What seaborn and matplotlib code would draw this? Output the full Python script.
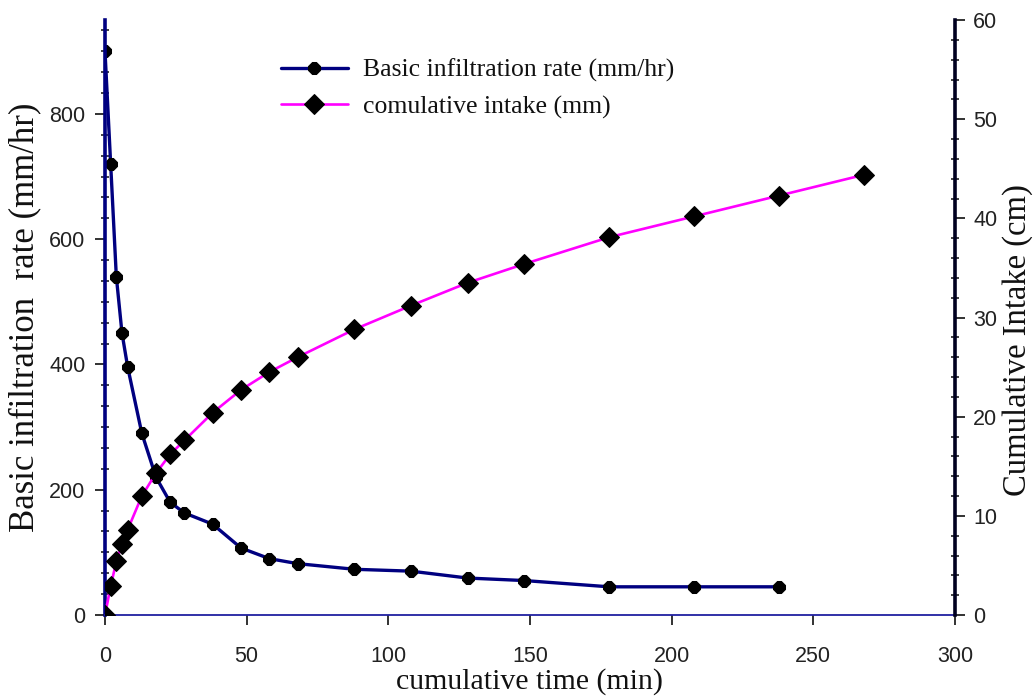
import matplotlib
matplotlib.use("Agg")
import matplotlib.pyplot as plt
import seaborn as sns
import numpy as np
import pandas as pd
from matplotlib.ticker import MultipleLocator

# ---- data ----
rate_time = [0, 2, 4, 6, 8, 13, 18, 23, 28, 38, 48, 58, 68, 88, 108, 128, 148, 178, 208, 238]
rate_values = [900, 720, 540, 450, 396, 290, 220, 180, 163, 145, 107, 90, 82, 73, 70, 59, 55, 45, 45, 45]
cum_time = [0, 2, 4, 6, 8, 13, 18, 23, 28, 38, 48, 58, 68, 88, 108, 128, 148, 178, 208, 238, 268]
cum_values = [0, 2.9, 5.4, 7.2, 8.6, 12.0, 14.3, 16.2, 17.6, 20.4, 22.7, 24.5, 26.0, 28.8, 31.2, 33.5, 35.4, 38.1, 40.2, 42.3, 44.4]
x_ticks = [0, 50, 100, 150, 200, 250, 300]
left_ticks = [0, 200, 400, 600, 800]
right_ticks = [0, 10, 20, 30, 40, 50, 60]
rate_label = "Basic infiltration rate (mm/hr)"
cum_label = "comulative intake (mm)"

sns.set_theme(style="white")
plt.rcParams["font.family"] = ["Liberation Sans", "DejaVu Sans"]

W, H = 1035, 700
fig = plt.figure(figsize=(W / 100, H / 100), dpi=100)
ax = fig.add_axes([105 / W, (H - 615) / H, (955 - 105) / W, (615 - 20) / H])
ax2 = ax.twinx()

navy = "#000080"
magenta = "#FF00FF"

df_rate = pd.DataFrame({"t": rate_time, "v": rate_values})
df_cum = pd.DataFrame({"t": cum_time, "v": cum_values})

sns.lineplot(data=df_rate, x="t", y="v", ax=ax, color=navy, linewidth=2.4,
             marker="8", markersize=9, markerfacecolor="black",
             markeredgecolor="black", label=rate_label, estimator=None, sort=False)
sns.lineplot(data=df_cum, x="t", y="v", ax=ax2, color=magenta, linewidth=1.9,
             marker="D", markersize=10, markerfacecolor="black",
             markeredgecolor="black", label=cum_label, estimator=None, sort=False)

for a in (ax, ax2):
    a.set_xlim(0, 300)
    a.set_facecolor("none")
    a.grid(False)
    lg = a.get_legend()
    if lg is not None:
        lg.remove()

ax.set_ylim(0, 950)
ax2.set_ylim(0, 60)
ax.set_xticks(x_ticks)
ax.set_yticks(left_ticks)
ax.yaxis.set_minor_locator(MultipleLocator(200 / 6))
ax2.set_yticks(right_ticks)
ax2.yaxis.set_minor_locator(MultipleLocator(2))

# spines
ax.spines["top"].set_visible(False)
ax2.spines["top"].set_visible(False)
ax.spines["left"].set_color(navy)
ax.spines["left"].set_linewidth(2.6)
ax.spines["bottom"].set_color("#2020A0")
ax.spines["bottom"].set_linewidth(1.3)
ax.spines["right"].set_visible(False)
ax2.spines["left"].set_visible(False)
ax2.spines["bottom"].set_visible(False)
ax2.spines["right"].set_color("#000020")
ax2.spines["right"].set_linewidth(2.6)

tickfont = 15.5
ax.tick_params(axis="x", which="major", direction="out", length=7, width=1.3,
               colors="#222222", labelsize=tickfont, pad=15, bottom=True)
ax.tick_params(axis="y", which="major", direction="out", length=7, width=1.3,
               colors="#222222", labelsize=tickfont, pad=7, left=True)
ax.tick_params(axis="y", which="minor", direction="inout", length=6, width=1.2,
               colors="#222222", left=True)
ax2.tick_params(axis="y", which="major", direction="out", length=7, width=1.3,
                colors="#222222", labelsize=tickfont, pad=6, right=True)
ax2.tick_params(axis="y", which="minor", direction="inout", length=6, width=1.2,
                colors="#222222", right=True)

serif = ["Liberation Serif", "DejaVu Serif"]
ax.set_xlabel("cumulative time (min)", fontsize=21.5, family=serif, color="#111111", labelpad=1)
ax.set_ylabel("Basic infiltration  rate (mm/hr)", fontsize=25, family=serif, color="#111111", labelpad=6)
ax2.set_ylabel("Cumulative Intake (cm)", fontsize=23.5, family=serif, color="#111111")
ax2.yaxis.set_label_coords(1.056, 0.462)

h1, l1 = ax.get_legend_handles_labels()
h2, l2 = ax2.get_legend_handles_labels()
leg = fig.legend(h1 + h2, l1 + l2, loc="upper left",
                 bbox_to_anchor=(281 / W, 1 - 59 / H), frameon=False,
                 prop={"family": serif, "size": 18.5}, handlelength=2.6,
                 handletextpad=0.6, labelspacing=0.5, borderpad=0, borderaxespad=0)
for t in leg.get_texts():
    t.set_color("#111111")

fig.savefig("out.png", dpi=100)
